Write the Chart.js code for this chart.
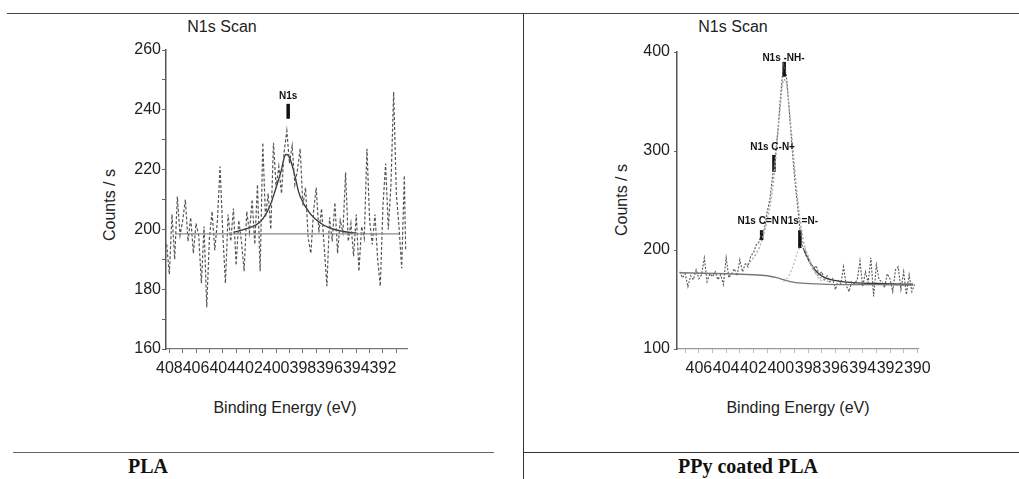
<!DOCTYPE html>
<html>
<head>
<meta charset="utf-8">
<script src="https://cdn.jsdelivr.net/npm/chart.js@4/dist/chart.umd.min.js"></script>
<style>
  body { margin: 0; background: #fff; width: 1019px; height: 479px; position: relative; overflow: hidden;
         font-family: "Liberation Sans", Arial, sans-serif; color: #222; }
  .abs { position: absolute; }
  .txt { position: absolute; transform: translate(-50%, -50%); white-space: nowrap; font-size: 16px; }
  .ylab { transform: translate(-50%, -50%) rotate(-90deg); }
  .cap { font-family: "Liberation Serif", "Times New Roman", serif; font-weight: bold; font-size: 20px; color: #111; }
  canvas { position: absolute; }
</style>
</head>
<body>

<div class="abs" style="left:7px;top:13px;width:1012px;height:0;border-top:1.5px solid #444"></div>
<div class="abs" style="left:523px;top:14px;width:0;height:465px;border-left:1.2px solid #333"></div>
<div class="abs" style="left:13px;top:452px;width:481px;height:0;border-top:1.5px solid #666"></div>
<div class="abs" style="left:523px;top:452px;width:496px;height:0;border-top:1.5px solid #333"></div>

<div class="txt" style="left:222px;top:27px">N1s Scan</div>
<div class="txt" style="left:733px;top:27px">N1s Scan</div>
<div class="txt ylab" style="left:110px;top:205px">Counts / s</div>
<div class="txt ylab" style="left:622px;top:200px">Counts / s</div>
<div class="txt" style="left:285px;top:408px">Binding Energy (eV)</div>
<div class="txt" style="left:798px;top:408px">Binding Energy (eV)</div>
<div class="txt cap" style="left:148px;top:466px">PLA</div>
<div class="txt cap" style="left:748px;top:466px">PPy coated PLA</div>

<canvas id="plaChart" width="300" height="342" style="left:120px;top:38px"></canvas>
<canvas id="ppyChart" width="310" height="342" style="left:630px;top:38px"></canvas>

<script>
// ================= DATA : PLA =================
const plaEnergy = [408.2, 408.0, 407.8, 407.6, 407.4, 407.2, 407.0, 406.8, 406.6, 406.4,
  406.2, 406.0, 405.8, 405.6, 405.4, 405.2, 405.0, 404.8, 404.6, 404.4,
  404.2, 404.0, 403.8, 403.6, 403.4, 403.2, 403.0, 402.8, 402.6, 402.4,
  402.2, 402.0, 401.8, 401.6, 401.4, 401.2, 401.0, 400.8, 400.6, 400.4,
  400.2, 400.0, 399.8, 399.6, 399.4, 399.2, 399.0, 398.8, 398.6, 398.4,
  398.2, 398.0, 397.8, 397.6, 397.4, 397.2, 397.0, 396.8, 396.6, 396.4,
  396.2, 396.0, 395.8, 395.6, 395.4, 395.2, 395.0, 394.8, 394.6, 394.4,
  394.2, 394.0, 393.8, 393.6, 393.4, 393.2, 393.0, 392.8, 392.6, 392.4,
  392.2, 392.0, 391.8, 391.6, 391.4, 391.2, 391.0, 390.8, 390.6, 390.4, 390.3];
const plaCounts = [195, 185, 205, 190, 211, 198, 203, 210, 196, 204,
  192, 202, 198, 182, 201, 174, 197, 206, 193, 203,
  221, 199, 182, 205, 196, 207, 188, 203, 196, 186,
  206, 199, 210, 195, 215, 186, 229, 204, 212, 200,
  229, 214, 221, 212, 226, 233, 222, 228, 215, 220,
  227, 208, 214, 197, 192, 206, 214, 199, 207, 194,
  181, 204, 196, 209, 192, 203, 199, 219, 196, 202,
  191, 205, 186, 201, 197, 227, 203, 195, 205, 190,
  181, 208, 222, 200, 215, 246, 212, 201, 187, 218, 193];

const plaFitEnergy = [403.2, 402.4, 401.5, 401.0, 400.5, 400.0, 399.6, 399.3, 399.0, 398.6, 398.2, 397.5, 396.8, 396.0, 395.0, 394.0];
const plaFitCounts = [199, 200, 201.5, 203.5, 207.5, 214, 220, 225, 224, 218, 211, 205.5, 202.5, 200.5, 199.3, 198.8];

const plaBaseEnergy = [407.6, 390.8];
const plaBaseCounts = [198.5, 198.5];

const plaPeakNames = ['N1s'];
const plaPeakEnergy = [399.1];
const plaPeakLow = [237];
const plaPeakHigh = [242];
const plaLabelCounts = [244.5];

// ================= DATA : PPy coated PLA =================
const ppyEnergy = [407.4, 407.2, 407.0, 406.8, 406.6, 406.4, 406.2, 406.0, 405.8, 405.6,
  405.4, 405.2, 405.0, 404.8, 404.6, 404.4, 404.2, 404.0, 403.8, 403.6,
  403.4, 403.2, 403.0, 402.8, 402.6, 402.4, 402.2, 402.0, 401.8, 401.6,
  401.4, 401.2, 401.0, 400.8, 400.6, 400.4, 400.2, 400.0, 399.8, 399.6,
  399.4, 399.2, 399.0, 398.8, 398.6, 398.4, 398.2, 398.0, 397.8, 397.6,
  397.4, 397.2, 397.0, 396.8, 396.6, 396.4, 396.2, 396.0, 395.8, 395.6,
  395.4, 395.2, 395.0, 394.8, 394.6, 394.4, 394.2, 394.0, 393.8, 393.6,
  393.4, 393.2, 393.0, 392.8, 392.6, 392.4, 392.2, 392.0, 391.8, 391.6,
  391.4, 391.2, 391.0, 390.8, 390.6, 390.4, 390.2];
const ppyCounts = [178, 172, 176, 163, 174, 170, 180, 171, 175, 192,
  168, 176, 173, 178, 170, 175, 165, 192, 172, 176,
  181, 174, 190, 178, 186, 183, 194, 197, 205, 208,
  217, 221, 238, 251, 275, 294, 323, 358, 388, 378,
  345, 308, 275, 248, 222, 203, 196, 190, 186, 181,
  184, 175, 178, 170, 174, 168, 171, 160, 169, 166,
  183, 164, 158, 168, 166, 170, 189, 163, 178, 167,
  192, 153, 185, 170, 168, 162, 176, 171, 158, 180,
  183, 160, 178, 155, 175, 158, 165];

const ppyEnvEnergy = [402.5, 402.0, 401.5, 401.0, 400.6, 400.3, 400.0, 399.8, 399.6, 399.4, 399.1, 398.8, 398.5, 398.2, 397.8, 397.4, 397.0, 396.5];
const ppyEnvCounts = [185, 192, 205, 230, 262, 305, 350, 372, 370, 345, 300, 255, 222, 200, 185, 176, 171, 168];

const ppyTailEnergy = [398.3, 397.8, 397.3, 396.6, 395.5, 394.0, 392.5, 391.0, 390.3];
const ppyTailCounts = [200, 186, 177, 171, 168, 166.5, 166, 165.5, 165.5];

const ppyCompEnergy = [399.8, 399.4, 399.0, 398.7, 398.4, 398.1, 397.7, 397.3, 396.9];
const ppyCompCounts = [168, 174, 188, 200, 204, 198, 184, 173, 167];

const ppyBaseEnergy = [407.4, 404.0, 402.0, 401.0, 400.3, 399.8, 399.3, 398.5, 397.0, 395.0, 393.0, 391.0, 390.3];
const ppyBaseCounts = [177, 176, 175, 174, 172, 170, 168, 166.5, 165.5, 165, 165, 164.5, 164.5];

const ppyPeakNames = ['N1s -NH-', 'N1s C-N+', 'N1s C=N', 'N1s =N-'];
const ppyPeakEnergy = [399.75, 400.5, 401.4, 398.6];
const ppyPeakLow = [375, 279, 210, 202];
const ppyPeakHigh = [390, 296, 220, 220];
const ppyLabelEnergy = [399.8, 400.6, 401.65, 398.65];
const ppyLabelCounts = [394, 304, 229, 229];

// ================= HELPERS =================
const FONT = '"Liberation Sans", Arial, sans-serif';

function pairs(xs, ys) {
  return xs.map((x, i) => ({ x: x, y: ys[i] }));
}

function markerSets(es, lows, highs) {
  return es.map((e, i) => ({
    data: [{ x: e, y: lows[i] }, { x: e, y: highs[i] }],
    borderColor: '#111', borderWidth: 3.5, pointRadius: 0
  }));
}

// peak names written next to the marker bars
const peakNames = {
  id: 'peakNames',
  afterDatasetsDraw(chart, args, opts) {
    const ctx = chart.ctx;
    ctx.save();
    ctx.font = 'bold 10px ' + FONT;
    ctx.fillStyle = '#111';
    ctx.textAlign = 'center';
    ctx.textBaseline = 'middle';
    opts.names.forEach((n, i) => {
      ctx.fillText(n, chart.scales.x.getPixelForValue(opts.xs[i]), chart.scales.y.getPixelForValue(opts.ys[i]));
    });
    ctx.restore();
  }
};

function xAxis(min, max, axisColor, tickColor) {
  return {
    type: 'linear', reverse: true, min: min, max: max,
    border: { color: axisColor, width: 1.2 },
    grid: { drawOnChartArea: false, tickLength: 4, color: tickColor },
    ticks: {
      stepSize: 1, includeBounds: false, autoSkip: false, maxRotation: 0, minRotation: 0,
      padding: 6, color: '#222', font: { size: 16, family: FONT },
      callback: v => (v % 2 === 0 ? String(v) : '')
    },
    afterFit: s => { s.height = 30; }
  };
}

function yAxis(min, max, step, labelStep, width, tickLen, pad) {
  return {
    min: min, max: max,
    border: { color: '#555', width: 1.5 },
    grid: { drawOnChartArea: false, tickLength: tickLen, color: '#666' },
    ticks: {
      stepSize: step, autoSkip: false, padding: pad, color: '#222', font: { size: 16, family: FONT },
      callback: v => (v % labelStep === 0 ? String(v) : '')
    },
    afterFit: s => { s.width = width; }
  };
}

// ================= PLA CHART =================
new Chart(document.getElementById('plaChart'), {
  type: 'line',
  data: {
    datasets: [
      { data: pairs(plaBaseEnergy, plaBaseCounts), borderColor: '#8a8a8a', borderWidth: 1.2, pointRadius: 0 },
      { data: pairs(plaEnergy, plaCounts), borderColor: '#555', borderWidth: 1.2, borderDash: [3, 2], pointRadius: 0 },
      { data: pairs(plaFitEnergy, plaFitCounts), borderColor: '#333', borderWidth: 1.3, pointRadius: 0, tension: 0.4 }
    ].concat(markerSets(plaPeakEnergy, plaPeakLow, plaPeakHigh))
  },
  options: {
    responsive: false, animation: false,
    layout: { padding: { left: 0, top: 12, right: 13, bottom: 1 } },
    plugins: {
      legend: { display: false }, tooltip: { enabled: false },
      peakNames: { names: plaPeakNames, xs: plaPeakEnergy, ys: plaLabelCounts }
    },
    scales: {
      x: xAxis(390.2, 408.25, '#777', '#777'),
      y: yAxis(160, 260, 10, 20, 46, 4, 1)
    }
  },
  plugins: [peakNames]
});

// ================= PPY CHART =================
new Chart(document.getElementById('ppyChart'), {
  type: 'line',
  data: {
    datasets: [
      { data: pairs(ppyBaseEnergy, ppyBaseCounts), borderColor: '#777', borderWidth: 1.3, pointRadius: 0, tension: 0.3 },
      { data: pairs(ppyCompEnergy, ppyCompCounts), borderColor: '#bbb', borderWidth: 1.2, borderDash: [2, 2], pointRadius: 0, tension: 0.4 },
      { data: pairs(ppyEnvEnergy, ppyEnvCounts), borderColor: '#aaa', borderWidth: 1.5, borderDash: [2, 2], pointRadius: 0, tension: 0.3 },
      { data: pairs(ppyEnergy, ppyCounts), borderColor: '#555', borderWidth: 1.1, borderDash: [2, 1.5], pointRadius: 0 },
      { data: pairs(ppyTailEnergy, ppyTailCounts), borderColor: '#333', borderWidth: 1.4, pointRadius: 0, tension: 0.3 }
    ].concat(markerSets(ppyPeakEnergy, ppyPeakLow, ppyPeakHigh))
  },
  options: {
    responsive: false, animation: false,
    layout: { padding: { left: 0, top: 14, right: 22, bottom: 1 } },
    plugins: {
      legend: { display: false }, tooltip: { enabled: false },
      peakNames: { names: ppyPeakNames, xs: ppyLabelEnergy, ys: ppyLabelCounts }
    },
    scales: {
      x: xAxis(389.95, 407.6, '#999', '#bbb'),
      y: yAxis(100, 400, 100, 100, 47, 3, 4)
    }
  },
  plugins: [peakNames]
});
</script>
</body>
</html>
